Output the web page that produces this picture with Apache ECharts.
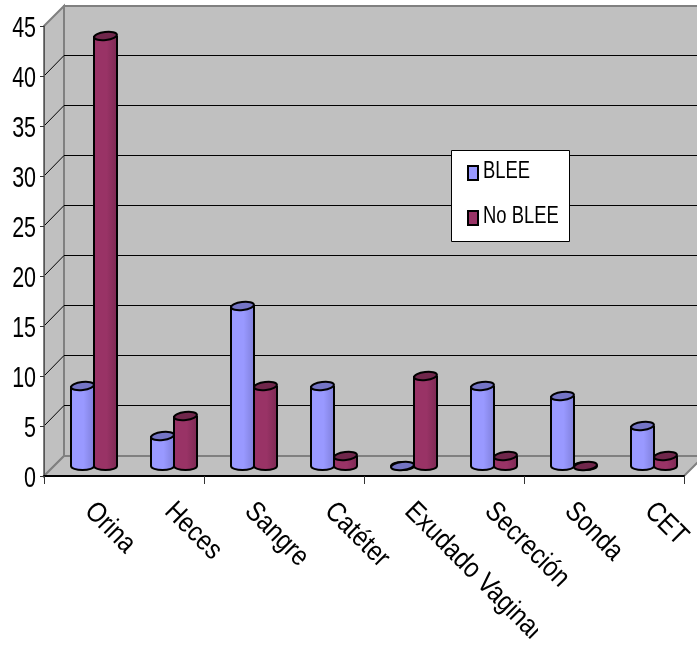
<!DOCTYPE html>
<html>
<head>
<meta charset="utf-8">
<style>html,body{margin:0;padding:0;background:#fff}#chart{width:697px;height:653px}</style>
<script src="https://cdn.jsdelivr.net/npm/echarts@6/dist/echarts.min.js"></script>
</head>
<body>
<div id="chart"></div>
<script>
const categories = ['Orina', 'Heces', 'Sangre', 'Catéter', 'Exudado Vaginal', 'Secreción', 'Sonda', 'CET'];
const blee = [8, 3, 16, 8, 0, 8, 7, 4];
const noBlee = [43, 5, 8, 1, 9, 1, 0, 1];
const yTicks = [0, 5, 10, 15, 20, 25, 30, 35, 40, 45];
const seriesNames = ['BLEE', 'No BLEE'];
const seriesColors = ['#9999FF', '#993366'];
const FONT = '"Liberation Sans", Arial, sans-serif';

// Oblique projection of the depth axis, in pixels
const DEPTH = 20;
const WALL = '#C0C0C0';
const EDGE = '#808080';

function plotBox(api) {
  const half = api.size([1, 0])[0] / 2;
  const first = api.coord([0, 0]);
  const last = api.coord([categories.length - 1, 45]);
  return { x0: first[0] - half, x1: last[0] + half, y0: first[1], yt: last[1] };
}

function frameItem(params, api) {
  const { x0, x1, y0, yt } = plotBox(api);
  const wall = { fill: WALL, stroke: EDGE, lineWidth: 2 };
  return {
    type: 'group',
    children: [
      { type: 'polygon', shape: { points: [[x0 + DEPTH, yt - DEPTH], [x1 + DEPTH, yt - DEPTH], [x1 + DEPTH, y0 - DEPTH], [x0 + DEPTH, y0 - DEPTH]] }, style: wall },
      { type: 'polygon', shape: { points: [[x0, yt], [x0 + DEPTH, yt - DEPTH], [x0 + DEPTH, y0 - DEPTH], [x0, y0]] }, style: wall },
      { type: 'polygon', shape: { points: [[x0, y0], [x0 + DEPTH, y0 - DEPTH], [x1 + DEPTH, y0 - DEPTH], [x1, y0]] }, style: wall }
    ]
  };
}

function gridItem(params, api) {
  const v = api.value(0);
  if (v === 0 || v === 45) return null;
  const { x0, x1 } = plotBox(api);
  const y = api.coord([0, v])[1];
  return {
    type: 'polyline',
    shape: { points: [[x0, y], [x0 + DEPTH, y - DEPTH - 0.5], [x1 + DEPTH, y - DEPTH - 0.5]] },
    style: { stroke: '#000', lineWidth: 1, fill: 'none' }
  };
}

// Value labels: a condensed face is obtained by squeezing along the baseline
function yLabelItem(params, api) {
  const v = api.value(0);
  const { x0 } = plotBox(api);
  const y = api.coord([0, v])[1];
  return {
    type: 'text',
    x: x0 - 8,
    y: y + 3,
    scaleX: 0.74,
    style: { text: String(v), font: '29px ' + FONT, fill: '#000', align: 'right', verticalAlign: 'middle' }
  };
}

function xLabelItem(params, api) {
  const idx = api.value(0);
  const x = api.coord([idx, 0]);
  return {
    type: 'text',
    x: x[0] + 5,
    y: x[1] + 31,
    rotation: -Math.PI / 4,
    scaleX: 0.86,
    style: { text: categories[idx], font: '28px ' + FONT, fill: '#000', align: 'left', verticalAlign: 'middle' }
  };
}

// One cylinder; side is -1 for the left column of a pair and +1 for the right one
function cylinder(side, light, dark, cap) {
  return function (params, api) {
    const idx = api.value(0);
    const top = api.coord([idx, api.value(1)]);
    const base = api.coord([idx, 0]);
    const bw = api.size([1, 0])[0] * 0.2875;
    const cx = top[0] + DEPTH / 2 + side * bw / 2;
    const yTop = top[1] - DEPTH / 2;
    const yBase = base[1] - DEPTH / 2;
    const rx = bw / 2, ry = 4;
    const fill = { type: 'linear', x: 0, y: 0, x2: 1, y2: 0, colorStops: [
      { offset: 0, color: light }, { offset: 0.55, color: light }, { offset: 1, color: dark }
    ] };
    const outline = { stroke: '#000', lineWidth: 2 };
    const tilt = { rotation: 0.12, originX: cx, originY: yTop };
    const children = [
      { type: 'ellipse', shape: { cx, cy: yBase, rx, ry }, style: Object.assign({ fill }, outline) }
    ];
    if (yBase - yTop > 0) {
      children.push(
        { type: 'rect', shape: { x: cx - rx, y: yTop, width: bw, height: yBase - yTop }, style: { fill } },
        { type: 'line', shape: { x1: cx - rx, y1: yTop, x2: cx - rx, y2: yBase }, style: outline },
        { type: 'line', shape: { x1: cx + rx, y1: yTop, x2: cx + rx, y2: yBase }, style: outline }
      );
    }
    children.push(Object.assign({ type: 'ellipse', shape: { cx, cy: yTop, rx, ry }, style: Object.assign({ fill: cap }, outline) }, tilt));
    return { type: 'group', children };
  };
}

const LEGEND_Z = 10;
const legendChildren = [
  { type: 'rect', z: LEGEND_Z, shape: { x: 0.5, y: 0.5, width: 118, height: 91 }, style: { fill: '#fff', stroke: '#000', lineWidth: 1 } }
];
seriesNames.forEach((name, i) => {
  const rowY = 22 + i * 45;
  legendChildren.push(
    { type: 'rect', z: LEGEND_Z, shape: { x: 17, y: rowY - 6, width: 10, height: 14 }, style: { fill: seriesColors[i], stroke: '#000', lineWidth: 2 } },
    { type: 'text', z: LEGEND_Z, x: 32, y: rowY, scaleX: 0.8, style: { text: name, font: '23px ' + FONT, fill: '#000', align: 'left', verticalAlign: 'middle' } }
  );
});

const chart = echarts.init(document.getElementById('chart'), null, { renderer: 'canvas' });
chart.setOption({
  animation: false,
  backgroundColor: '#fff',
  grid: { left: 44, top: 26, width: 640, height: 450, containLabel: false },
  xAxis: {
    type: 'category',
    data: categories,
    boundaryGap: true,
    axisLine: { lineStyle: { color: '#000', width: 2 } },
    axisTick: { show: true, length: 8, lineStyle: { color: '#333', width: 1 } },
    axisLabel: { show: false },
    z: 3
  },
  yAxis: {
    type: 'value',
    min: 0,
    max: 45,
    interval: 5,
    splitLine: { show: false },
    axisLine: { show: true, lineStyle: { color: '#555', width: 1 } },
    axisTick: { show: true, length: 4, lineStyle: { color: '#333', width: 1 } },
    axisLabel: { show: false },
    z: 3
  },
  series: [
    { type: 'custom', name: 'frame', silent: true, z: 1, renderItem: frameItem, data: [[0]], encode: { x: -1, y: -1 } },
    { type: 'custom', name: 'grid', silent: true, z: 2, renderItem: gridItem, data: yTicks.map(v => [v]), encode: { x: -1, y: 0 } },
    {
      type: 'custom', name: seriesNames[0], z: 4,
      itemStyle: { color: seriesColors[0] },
      renderItem: cylinder(-1, '#9999FF', '#8080DC', '#7474C4'),
      data: blee.map((v, i) => [i, v]), encode: { x: 0, y: 1 }
    },
    {
      type: 'custom', name: seriesNames[1], z: 5,
      itemStyle: { color: seriesColors[1] },
      renderItem: cylinder(1, '#993366', '#7E2A54', '#70264B'),
      data: noBlee.map((v, i) => [i, v]), encode: { x: 0, y: 1 }
    },
    { type: 'custom', name: 'yLabels', silent: true, z: 6, renderItem: yLabelItem, data: yTicks.map(v => [v]), encode: { x: -1, y: 0 } },
    { type: 'custom', name: 'xLabels', silent: true, z: 6, renderItem: xLabelItem, data: categories.map((c, i) => [i]), encode: { x: 0, y: -1 } }
  ],
  graphic: [
    { type: 'group', x: 451, y: 150, silent: true, children: legendChildren },
    // The long category label is cut off at the edge of its text box
    { type: 'rect', silent: true, z: 20, shape: { x: 538, y: 610, width: 30, height: 43 }, style: { fill: '#fff' } }
  ]
});
</script>
</body>
</html>
